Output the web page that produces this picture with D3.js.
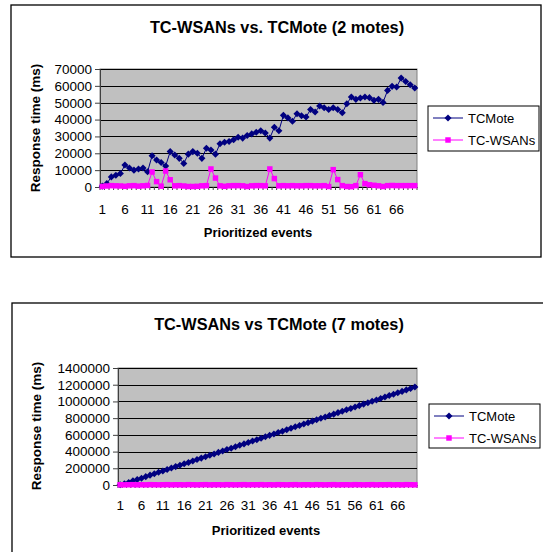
<!DOCTYPE html>
<html><head><meta charset="utf-8">
<script src="https://cdn.jsdelivr.net/npm/d3@7"></script>
<style>
body{margin:0;background:#fff}
svg{display:block}
text{font-family:"Liberation Sans",Arial,sans-serif;fill:#000}
</style>
</head><body>
<svg id="c" width="543" height="552"></svg>
<script>
// ---- data ----
const categories = [1,2,3,4,5,6,7,8,9,10,11,12,13,14,15,16,17,18,19,20,21,22,23,24,25,26,27,28,29,30,31,32,33,34,35,36,37,38,39,40,41,42,43,44,45,46,47,48,49,50,51,52,53,54,55,56,57,58,59,60,61,62,63,64,65,66,67,68,69,70];
const xLabels = [1,6,11,16,21,26,31,36,41,46,51,56,61,66];
const seriesNames = ["TCMote","TC-WSANs"];
const titles = ["TC-WSANs vs. TCMote (2 motes)","TC-WSANs vs TCMote (7 motes)"];
const yTitle = "Response time (ms)";
const xTitle = "Prioritized events";

const tcmote2 = [500,2000,6000,7000,8000,13000,11300,10000,10700,11300,
  9000,18500,16000,14500,12500,21000,19000,17000,14000,19500,
  21000,20000,17000,23000,22000,19500,25700,26500,27000,28000,
  29500,29000,30500,31500,32500,33400,32000,29000,35400,33400,
  42500,41000,39000,43500,42300,41500,46000,44500,48000,47000,
  46000,47000,46000,44000,49400,53400,52000,52800,53400,53000,
  51400,52000,50200,57300,59700,59300,64600,62600,60700,58700];
const wsans2 = [300,600,800,700,600,400,700,800,500,700,
  900,8900,3200,500,9500,4300,700,800,600,300,
  300,400,700,800,10700,5300,700,400,700,800,
  800,700,300,700,800,800,700,10700,5000,700,
  800,700,800,700,700,800,800,700,700,800,
  300,10300,4400,800,300,200,800,7300,2000,1300,
  1000,700,300,800,900,800,800,800,800,800];
const yTicks2 = [0,10000,20000,30000,40000,50000,60000,70000];

const tcmote7 = [2000,15000,30000,50000,66000,80000,100000,118000,135000,152000,
  168000,186000,203000,220000,236000,254000,270000,288000,305000,322000,
  338000,356000,372000,390000,406000,424000,440000,458000,475000,492000,
  508000,526000,542000,560000,577000,594000,610000,628000,644000,662000,
  678000,696000,712000,730000,746000,764000,780000,798000,814000,832000,
  848000,866000,882000,900000,916000,934000,950000,968000,984000,1002000,
  1018000,1036000,1052000,1070000,1086000,1104000,1120000,1138000,1154000,1172000];
const wsans7 = [3000,2000,3000,4000,2000,3000,2000,4000,3000,2000,
  3000,4000,2000,3000,3000,2000,4000,3000,2000,3000,
  4000,2000,3000,3000,2000,4000,3000,2000,3000,4000,
  2000,3000,3000,4000,2000,3000,2000,4000,3000,2000,
  3000,4000,2000,3000,3000,2000,4000,3000,2000,3000,
  4000,2000,3000,3000,2000,4000,3000,2000,3000,4000,
  2000,3000,3000,4000,2000,3000,2000,4000,3000,2000];
const yTicks7 = [0,200000,400000,600000,800000,1000000,1200000,1400000];

// ---- drawing ----
const svg = d3.select("#c");
const NAVY = "#000080", PINK = "#FF00FF";
const FONT = '"Liberation Sans",Arial,sans-serif';

function drawChart(cfg) {
  const g = svg.append("g");
  g.append("rect").attr("x", cfg.box[0]).attr("y", cfg.box[1])
    .attr("width", cfg.box[2]).attr("height", cfg.box[3])
    .attr("fill", "#fff").attr("stroke", "#000").attr("stroke-width", 1.3);

  const x = d3.scaleBand().domain(categories).range([cfg.left, cfg.right]).padding(0);
  const y = d3.scaleLinear().domain([0, cfg.yTicks[cfg.yTicks.length-1]]).range([cfg.bottom, cfg.top]);
  const cx = c => x(c) + x.bandwidth()/2;

  // plot area
  g.append("rect").attr("x", cfg.left).attr("y", cfg.top)
    .attr("width", cfg.right - cfg.left).attr("height", cfg.bottom - cfg.top)
    .attr("fill", "#C0C0C0").attr("stroke", "#808080").attr("stroke-width", 1);

  // gridlines
  g.append("g").selectAll("line").data(cfg.yTicks.slice(1)).join("line")
    .attr("x1", cfg.left).attr("x2", cfg.right)
    .attr("y1", d => Math.round(y(d)) + 0.5).attr("y2", d => Math.round(y(d)) + 0.5)
    .attr("stroke", "#000").attr("stroke-width", 1);

  // y axis
  const ya = g.append("g").attr("transform", `translate(${cfg.left},0)`)
    .call(d3.axisLeft(y).tickValues(cfg.yTicks).tickFormat(d3.format("d")).tickSize(5).tickPadding(3));
  ya.select(".domain").attr("stroke", "#404040");
  ya.selectAll(".tick line").attr("stroke", "#404040");
  ya.selectAll("text").style("font-size", "13.5px").style("font-family", FONT);

  // x axis
  const xa = g.append("g").attr("transform", `translate(0,${cfg.bottom})`)
    .call(d3.axisBottom(x).tickValues(xLabels).tickSize(0).tickPadding(cfg.xPad));
  xa.select(".domain").attr("stroke", "#000");
  xa.selectAll("text").style("font-size", "13.5px").style("font-family", FONT);
  const bounds = categories.map(c => x(c)).concat([cfg.right]);
  g.append("g").selectAll("line").data(bounds).join("line")
    .attr("x1", d => d).attr("x2", d => d)
    .attr("y1", cfg.bottom).attr("y2", cfg.bottom + 3)
    .attr("stroke", "#404040").attr("stroke-width", 1);

  // series
  const series = [
    {name: seriesNames[0], vals: cfg.s1, color: NAVY, sym: "diamond"},
    {name: seriesNames[1], vals: cfg.s2, color: PINK, sym: "square"}
  ];
  const diamond = d3.symbol(d3.symbolSquare, 25)();
  const square = d3.symbol(d3.symbolSquare, 30)();
  const line = d3.line().x((d,i) => cx(categories[i])).y(d => y(d));
  series.forEach(s => {
    g.append("path").datum(s.vals).attr("d", line)
      .attr("fill", "none").attr("stroke", s.color).attr("stroke-width", 1);
    g.append("g").selectAll("path").data(s.vals).join("path")
      .attr("d", s.sym === "diamond" ? diamond : square)
      .attr("transform", (d,i) => `translate(${cx(categories[i])},${y(d)})` + (s.sym === "diamond" ? " rotate(45)" : ""))
      .attr("fill", s.color);
  });

  // titles
  g.append("text").attr("x", cfg.titleX).attr("y", cfg.titleY).attr("text-anchor", "middle")
    .attr("dominant-baseline", "central")
    .style("font-size", "16.3px").style("font-weight", "bold").text(cfg.title);
  g.append("text").attr("transform", `translate(${cfg.yTitleX},${cfg.yTitleY}) rotate(-90)`)
    .attr("text-anchor", "middle").attr("dominant-baseline", "central")
    .style("font-size", "13.5px").style("font-weight", "bold").text(yTitle);
  g.append("text").attr("x", cfg.xTitleX).attr("y", cfg.xTitleY).attr("text-anchor", "middle")
    .attr("dominant-baseline", "central")
    .style("font-size", "13px").style("font-weight", "bold").text(xTitle);

  // legend
  const L = cfg.legend;
  g.append("rect").attr("x", L.x).attr("y", L.y).attr("width", L.w).attr("height", L.h)
    .attr("fill", "#fff").attr("stroke", "#000").attr("stroke-width", 1);
  series.forEach((s, i) => {
    const ly = L.rows[i];
    g.append("line").attr("x1", L.x + 5).attr("x2", L.x + 35).attr("y1", ly).attr("y2", ly)
      .attr("stroke", s.color).attr("stroke-width", 1);
    g.append("path").attr("d", s.sym === "diamond" ? diamond : square)
      .attr("transform", `translate(${L.x + 20},${ly})` + (s.sym === "diamond" ? " rotate(45)" : ""))
      .attr("fill", s.color);
    g.append("text").attr("x", L.x + 40).attr("y", ly).attr("dominant-baseline", "central")
      .style("font-size", "13px").text(s.name);
  });
}

drawChart({
  box: [11, 5, 530, 252],
  left: 100, right: 417, top: 69, bottom: 187, xPad: 17,
  yTicks: yTicks2, s1: tcmote2, s2: wsans2,
  title: titles[0], titleX: 277, titleY: 27,
  yTitleX: 35, yTitleY: 128, xTitleX: 258, xTitleY: 232,
  legend: {x: 428, y: 106, w: 111, h: 45, rows: [118, 140]}
});
drawChart({
  box: [12, 303, 540, 260],
  left: 118, right: 417, top: 368, bottom: 485, xPad: 15,
  yTicks: yTicks7, s1: tcmote7, s2: wsans7,
  title: titles[1], titleX: 279, titleY: 324,
  yTitleX: 36, yTitleY: 426, xTitleX: 266, xTitleY: 530,
  legend: {x: 429, y: 404, w: 111, h: 44, rows: [416, 438]}
});
</script>
</body></html>
